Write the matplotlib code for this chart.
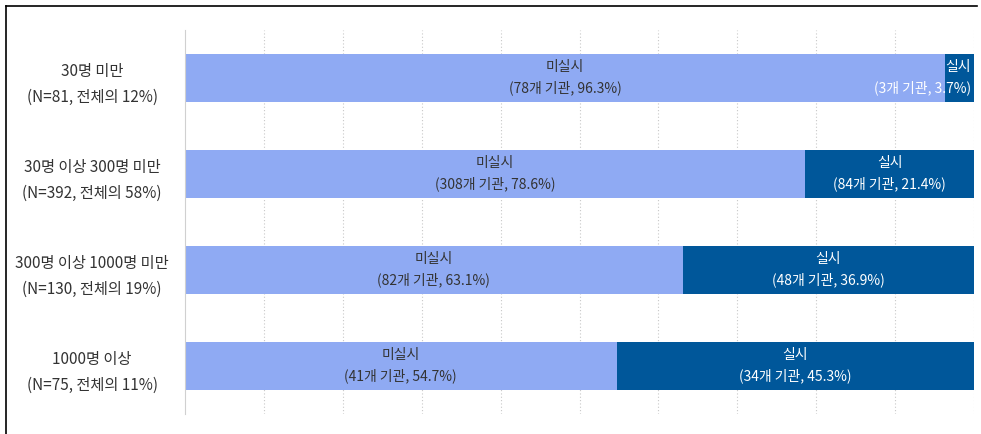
import numpy as np
import matplotlib.pyplot as plt
from matplotlib.lines import Line2D

plt.rcParams['font.family'] = ['Noto Sans CJK KR', 'DejaVu Sans']

groups = ['30명 미만\n(N=81, 전체의 12%)',
          '30명 이상 300명 미만\n(N=392, 전체의 58%)',
          '300명 이상 1000명 미만\n(N=130, 전체의 19%)',
          '1000명 이상\n(N=75, 전체의 11%)']
no_pct = [96.3, 78.6, 63.1, 54.7]
yes_pct = [3.7, 21.4, 36.9, 45.3]
no_cnt = [78, 308, 82, 41]
yes_cnt = [3, 84, 48, 34]

light = '#8faaf3'
dark = '#00579a'

fig = plt.figure(figsize=(9.81, 4.34), dpi=100)
ax = fig.add_axes([185 / 981, 20 / 434, 789 / 981, 384 / 434])

y = np.arange(len(groups))
ax.barh(y, no_pct, height=0.5, color=light, edgecolor='none')
ax.barh(y, yes_pct, left=no_pct, height=0.5, color=dark, edgecolor='none')

for i in range(len(groups)):
    ax.text(no_pct[i] / 2, y[i], '미실시\n(%d개 기관, %.1f%%)' % (no_cnt[i], no_pct[i]),
            ha='center', va='center', fontsize=10, fontweight='medium',
            color='#333333', linespacing=1.55)
    if yes_pct[i] < 10:
        ax.text(99.6, y[i], '실시\n(%d개 기관, %.1f%%)' % (yes_cnt[i], yes_pct[i]),
                ha='right', va='center', fontsize=10, fontweight='medium',
                color='white', linespacing=1.55, multialignment='right')
    else:
        ax.text(no_pct[i] + yes_pct[i] / 2, y[i], '실시\n(%d개 기관, %.1f%%)' % (yes_cnt[i], yes_pct[i]),
                ha='center', va='center', fontsize=10, fontweight='medium',
                color='white', linespacing=1.55)

ax.set_xlim(0, 100)
ax.set_ylim(3.5, -0.5)
ax.set_xticks(np.arange(10, 101, 10))
ax.xaxis.grid(True, linestyle=(0, (1, 2)), color='#c8c8c8', linewidth=0.8)
ax.set_axisbelow(True)
ax.tick_params(axis='x', length=0, labelbottom=False)
ax.tick_params(axis='y', length=0)
ax.set_yticks(y)
ax.set_yticklabels(groups, fontsize=11, fontweight='medium', color='#333333',
                   linespacing=1.65, multialignment='center')
for lbl in ax.get_yticklabels():
    lbl.set_horizontalalignment('center')
    lbl.set_x(-88 / 789)
for s in ['top', 'right', 'bottom']:
    ax.spines[s].set_visible(False)
ax.spines['left'].set_color('#d0d0d0')

# outer frame lines (top and left)
fig.add_artist(Line2D([6 / 981, 977 / 981], [1 - 6 / 434, 1 - 6 / 434], color='black', lw=1.2))
fig.add_artist(Line2D([6 / 981, 6 / 981], [0, 1 - 6 / 434], color='black', lw=1.2))

fig.savefig('out.png', dpi=100)
